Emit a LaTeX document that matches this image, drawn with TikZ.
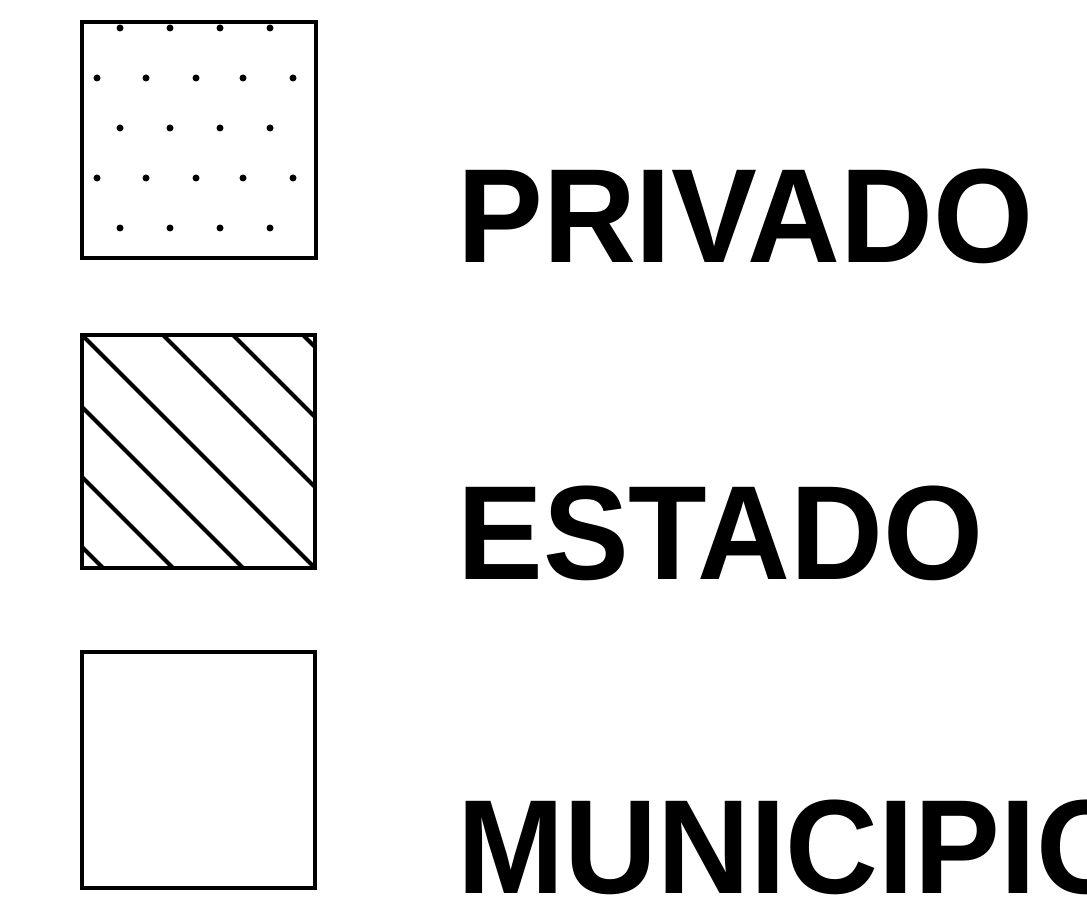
\documentclass[tikz,border=0pt]{standalone}
\usepackage{fontspec}
\usepackage{graphicx}
\newfontfamily\legfont{Liberation Sans}
\tikzset{
  legbox/.style={draw=black, line width=4pt, line join=miter},
  hatch/.style={draw=black, line width=4pt, line cap=butt},
  dotmark/.style={fill=black},
  legtext/.style={anchor=base west, inner sep=0pt, font=\legfont\bfseries\fontsize{134}{160}\selectfont}
}
\newcommand{\squeeze}[1]{\scalebox{0.96}[1]{#1}}
\begin{document}
\begin{tikzpicture}[x=1pt,y=-1pt]
\useasboundingbox (0,0) rectangle (1087,920);
% box 1: PRIVADO (dotted)
\draw[legbox] (82,22) rectangle (316,258);
\foreach \yy in {78,178}{
  \foreach \xx in {97,146,196,243,293}{
    \fill[dotmark] (\xx,\yy) circle (3.5);
  }
}
\foreach \yy in {28,128,228}{
  \foreach \xx in {120,170,220,270}{
    \fill[dotmark] (\xx,\yy) circle (3.5);
  }
}
% box 2: ESTADO (hatched)
\draw[hatch] (82,335) -- (315,568);
\draw[hatch] (163,335) -- (315,487);
\draw[hatch] (233,335) -- (315,417);
\draw[hatch] (303,335) -- (315,347);
\draw[hatch] (82,407) -- (243,568);
\draw[hatch] (82,477) -- (173,568);
\draw[hatch] (82,547) -- (103,568);
\draw[legbox] (82,335) rectangle (315,568);
% box 3: MUNICIPIO (empty)
\draw[legbox] (82,652) rectangle (315,888);
% labels
\node[legtext] (privado) at (457,262) {\squeeze{PRIVADO}};
\node[legtext] (estado) at (457,579) {\squeeze{ESTADO}};
\node[legtext] (municipio) at (457,893) {\squeeze{MUNICIPIO}};
\end{tikzpicture}
\end{document}
